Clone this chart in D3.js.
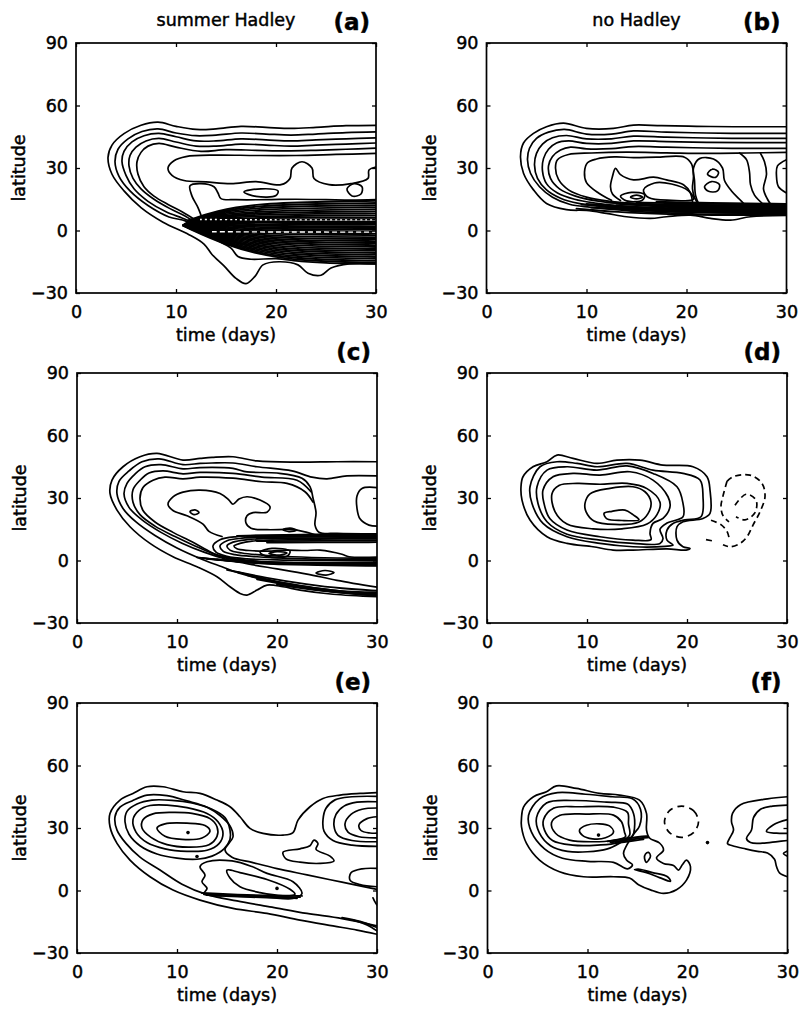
<!DOCTYPE html>
<html>
<head>
<meta charset="utf-8">
<script src="https://cdn.jsdelivr.net/npm/d3@7/dist/d3.min.js"></script>
<style>
html,body{margin:0;padding:0;background:#fff;}
svg{display:block;font-family:"DejaVu Sans",sans-serif;}
</style>
</head>
<body>
<svg id="chart" width="802" height="1010"></svg>
<script>
// ---------- axes / text data ----------
const xTicks = [0, 10, 20, 30];
const yTicks = [-30, 0, 30, 60, 90];
const xDomain = [0, 30];
const yDomain = [-30, 90];
const panelLetters = ["(a)", "(b)", "(c)", "(d)", "(e)", "(f)"];
const columnTitles = ["summer Hadley", "no Hadley"];
const xLabel = "time (days)";
const yLabel = "latitude";

// ---------- panel (a): contour lines, [time (days), latitude] ----------
const aOpen = [
 [[30,50.5],[27,50.3],[24,49.5],[21.5,49],[19,49.5],[16.5,50],[14,48.8],[12,48.5],[10,50],[8.2,52],[6.5,50.5],[4.8,46.5],[3.6,41],[3.2,35],[3.6,27],[4.8,19],[6.5,11],[8.7,4],[11.3,-2],[12.8,-6.5],[13.6,-11.5],[14.8,-17],[16,-23],[17,-25.5],[17.9,-22],[18.7,-16.5],[20.3,-15],[22.2,-16.5],[23.2,-20.5],[24.5,-21.5],[25.5,-18],[27.3,-16],[30,-16]],
 [[30,47.3],[27,47],[24,46.3],[21.5,45.8],[19,46.3],[16.5,46.8],[14,45.8],[12,45.5],[10,46.8],[8.2,48.8],[6.6,47.5],[5.2,44],[4.2,39],[3.9,33],[4.3,26],[5.4,19],[7.2,12],[9.3,6.5],[11,4.5],[12.5,0],[14,-4.5],[15.5,-8.5],[16.2,-12.5],[17.5,-13.8],[20,-13.5],[22.5,-14.8],[25,-15.5],[30,-16]],
 [[30,44.5],[27,44],[24,43.5],[21.5,43],[19,43.5],[16.5,44],[14,43],[12,43],[10,45],[8.3,46.6],[6.8,45.5],[5.6,42.5],[4.8,38],[4.6,33],[5,26.5],[5.8,20],[7.2,14],[9,9],[10.6,6],[11.3,4.6]],
 [[30,42],[27,41.5],[24,41],[21.5,40.5],[19,41],[16.5,41.5],[14,40.5],[12,40.5],[10,42.5],[8.3,44.2],[7,43],[6,40],[5.4,36],[5.3,31],[5.7,25],[6.5,20],[7.8,15],[9.4,10.5],[10.9,7],[11.6,4.9]],
 [[30,39.5],[27,39],[24,38.5],[21,38.2],[18,38.5],[15,38.8],[12.5,38],[10,40],[8.3,41.8],[7.2,40.5],[6.5,37.5],[6.1,33],[6.2,27],[6.8,21],[7.8,16.5],[9.2,12.5],[10.6,9],[11.9,5.2]],
 [[30,37],[26,36.5],[22,36],[18,36],[14,36.2],[11,35.5],[9.8,33.5],[9.2,30],[9.6,26.5],[10.8,24],[13,23.3],[15.5,22.5],[18,23.5],[20.5,22],[21.4,25],[21.6,30],[22.6,33],[23.6,30],[23.8,25],[25.3,22],[27.5,22.5],[29.2,25],[29.3,29],[30,30.5]],
 [[12.6,6],[12.2,11],[11.6,16.5],[11.4,21.5],[12.5,22.5],[13.8,21],[14.2,18],[14.5,15.3],[16,14.8],[19,14.8],[22,15],[25,14.8],[27.5,14.6],[30,14.8]]
];
const aClosed = [
 [[16.8,18.5],[18.5,20],[20.2,19],[20,16.8],[18,16.4]],
 [[27.1,20],[27.8,22.5],[28.6,21],[28.5,17.5],[27.6,16.6]]
];
const aBand = [
 [[11.2,4.8],[14,9.5],[18,12.8],[24,13.8],[30,14.2]],
 [[11.3,4.8],[14,9],[18,11.9],[24,12.8],[30,13.2]],
 [[11.4,4.8],[14,8.5],[18,11],[24,11.8],[30,12.2]],
 [[11.5,4.8],[14,8],[18,10.1],[24,10.8],[30,11.2]],
 [[11.6,4.8],[14,7.5],[18,9.2],[24,9.8],[30,10.2]],
 [[11.7,4.8],[14,7],[18,8.4],[24,8.9],[30,9.2]],
 [[11.8,4.8],[14,6.5],[18,7.6],[24,8],[30,8.2]],
 [[11.9,4.8],[14,6],[18,6.8],[24,7.1],[30,7.2]],
 [[12,4.8],[14,5.6],[18,6],[24,6.2],[30,6.2]],
 [[12.1,4.7],[16,5.2],[30,5.4]],
 [[11.8,4.5],[15,4.4],[20,4.3],[30,4.4]],
 [[11.7,4.4],[15,3.8],[20,3.6],[30,3.6]],
 [[11.6,4.3],[15,3.2],[20,2.9],[30,2.8]],
 [[11.5,4.2],[15,2.6],[20,2.1],[30,2]],
 [[11.4,4.1],[15,2],[20,1.4],[30,1.2]],
 [[11.3,4],[15,1.4],[20,0.6],[30,0.4]],
 [[11.2,3.9],[15,0.8],[20,-0.2],[30,-0.5]],
 [[11.2,3.8],[15,0.2],[20,-1],[25,-1.2],[30,-1.3]],
 [[11.1,3.7],[15,-0.3],[20,-1.8],[25,-2.1],[30,-2.2]],
 [[11.1,3.6],[15,-0.8],[20,-2.7],[25,-3.1],[30,-3.2]],
 [[11,3.5],[15,-1.3],[20,-3.5],[25,-4],[30,-4.1]],
 [[11,3.4],[15,-1.8],[20,-4.4],[25,-4.9],[30,-5.1]],
 [[11,3.3],[15,-2.3],[20,-5.2],[25,-5.8],[30,-6]],
 [[10.9,3.2],[15,-2.8],[20,-6.1],[25,-6.8],[30,-7]],
 [[10.9,3.1],[15,-3.3],[20,-6.9],[25,-7.7],[30,-7.9]],
 [[10.9,3],[15,-3.8],[20,-7.8],[25,-8.6],[30,-8.9]],
 [[10.8,2.9],[15,-4.3],[20,-8.6],[25,-9.5],[30,-9.8]],
 [[10.8,2.8],[15,-4.8],[20,-9.5],[25,-10.4],[30,-10.8]],
 [[10.8,2.7],[15,-5.3],[20,-10.3],[25,-11.3],[30,-11.7]],
 [[10.7,2.6],[15,-5.8],[20,-11.2],[25,-12.2],[30,-12.7]],
 [[10.7,2.5],[15,-6.3],[20,-12],[25,-13.1],[30,-13.6]],
 [[10.7,2.4],[15,-6.8],[20,-12.8],[25,-14],[30,-14.6]],
 [[10.7,2.3],[15,-7.3],[20,-13.4],[25,-14.9],[30,-15.5]]
];
const aGaps = [
 [[12.4,5.3],[16,5.2],[22,5.1],[30,5.1]],
 [[13.6,-0.6],[20,-0.7],[30,-0.8]]
];

// ---------- panel (b) ----------
const bOpen = [
 [[30,49.8],[27,49.8],[24.7,49.8],[21,50],[17.5,50.3],[14.7,50.6],[12.7,49],[10,49],[7.7,51.5],[6,49.8],[4.7,46.6],[3.7,42],[3.4,35.5],[3.7,27.5],[4.7,19.5],[6,13],[8,10],[10,9.6],[12,8.2],[14,6.6],[16.4,5.8],[18,6.6],[20.4,7.4],[22.4,5.8],[24.4,5],[26.4,6.6],[30,7.2]],
 [[30,46.6],[26,46.6],[22,46.8],[18,47.2],[14.7,47.8],[12.5,46.3],[10,46.3],[7.8,48.5],[6.2,47.2],[5,44.2],[4.3,39.5],[4.1,34],[4.4,27.5],[5.3,21],[6.6,16],[8.3,12.6],[10.3,11.2],[13,10],[16,8.8],[19,8.3],[22,7.8],[26,7.8],[30,7.8]],
 [[30,44.2],[26,44.2],[22,44.4],[18,44.8],[14.7,45.3],[12.5,44],[10,44],[8,45.6],[6.6,44.5],[5.6,41.5],[5,37],[4.8,31.5],[5.1,25],[6,19.5],[7.4,15.5],[9.2,13],[11.3,11.8],[14,10.6],[17,9.6],[20,9],[24,8.7],[30,8.6]],
 [[30,42.2],[26,42.2],[22,42.3],[18,42.7],[14.7,43],[12.5,41.8],[10,41.8],[8.2,43],[7,42],[6.2,39],[5.7,34.5],[5.6,28.5],[6,22.5],[7.1,18],[8.8,15],[10.8,13.2],[13.5,11.8],[16.5,10.7],[20,10],[24,9.6],[30,9.4]],
 [[30,39.4],[26,39.4],[22,39.6],[18,40],[14.7,40.3],[12.5,39.3],[10,39.2],[8.4,40],[7.4,38.6],[6.6,35.5],[6.2,31],[6.4,25],[7.3,20],[8.9,16.5],[11,14.2],[13.7,12.8],[17,11.6],[20.5,10.8],[25,10.3],[30,10.1]],
 [[30,37.5],[26,37.2],[22,37],[18,37.3],[14,37.6],[10.5,37.2],[8.2,36.5],[7.1,34],[6.9,30],[7.2,24.5],[8.2,19.5],[10,16],[12.4,14],[15,12.9],[18,12.1],[21,11.6],[25,11.2],[30,11]],
 [[12.5,14.5],[11.2,18],[10,23],[9.8,28],[10.1,32.5],[11,34.3],[12.8,35.3],[14.7,35],[17,35.2],[19.8,35.2],[20.5,32],[20.7,26],[20.6,20],[21,14],[21.5,12]],
 [[13.4,14.4],[12.6,17.5],[12.4,21],[12.6,26],[12.9,29.8],[13.4,26.8],[14.7,24.3],[16.7,25.6],[18,24.3],[19.7,22],[20.4,18],[20.6,13.8]],
 [[21.2,13],[20.9,17],[20.8,24],[20.7,30],[21.3,34.5],[22.7,34.3],[23.6,30],[23.8,24],[24.5,19],[25.3,15],[25.8,12.5]],
 [[25.3,37.2],[26,34],[26.3,28],[26.4,22],[26.8,17],[27.7,12.5]],
 [[27.4,37],[27.8,33],[28,27],[27.7,20],[28.1,15],[28.5,12]],
 [[30,34],[29.1,31],[29,26],[29.2,21],[30,18]]
];
const bClosed = [
 [[13.4,16.5],[14.5,18.3],[15.8,17.2],[15.6,14.6],[14,14.2]],
 [[14.4,16],[15,17],[15.6,16],[15,15.2]],
 [[15.7,19.5],[16.8,22.8],[18.5,22.3],[20.2,19],[20.7,15],[18.5,14.5],[16.2,15.8]],
 [[22.1,27],[22.6,29.5],[23.2,28],[22.9,25.5]],
 [[21.8,21],[22.5,23.5],[23.3,22],[23.1,19],[22.2,18.8]]
];
const bBand = [
 [[9,10.5],[13,8.8],[18,7.8],[24,7.2],[30,7.6]],
 [[9.5,12.5],[14,10.5],[20,9.6],[30,9]],
 [[10,12.8],[15,11.2],[20,10.5],[30,10]],
 [[11,12],[16,10.3],[22,9.8],[30,9.4]],
 [[12,13.5],[16,12.3],[21,11.8],[30,11.5]],
 [[14,13],[19,12.4],[25,12],[30,11.9]],
 [[10.5,11],[15,9.6],[20,8.8],[30,8.3]],
 [[11.5,11.5],[16,9.8],[22,9.2],[30,8.8]],
 [[13,12.8],[18,11.4],[24,10.9],[30,10.7]],
 [[15,13.5],[20,12.9],[25,12.6],[30,12.4]],
 [[17,13.8],[22,13.2],[30,12.8]],
 [[12,11],[17,9.2],[24,8.4],[30,8.1]]
];

// ---------- panel (c) ----------
const cOpen = [
 [[30,47.4],[26,47.4],[22,47.2],[18,47.8],[15.6,49.8],[13.5,49.5],[12.3,49],[10.6,48.2],[8,51.4],[6.3,49.8],[4.6,45],[3.5,38.6],[3.3,32.2],[4,24.2],[5.3,16.2],[7.3,8.2],[9.6,1.8],[12,-3],[14,-7.8],[15.3,-12.6],[16.3,-15.8],[17,-16.6],[18,-14.2],[19,-11.8],[20.6,-12.6],[22.3,-14.2],[25.6,-16.2],[30,-17.4]],
 [[30,40.6],[27,40.6],[25,39.2],[23.5,40],[21.5,43],[18,45],[15.6,46.8],[13.5,46.8],[12.3,46.6],[10.6,46],[8.2,48.8],[6.5,47.4],[5.2,43],[4.2,38],[4,32],[4.6,25],[5.9,18.5],[7.8,12],[10,6],[12.3,1],[14.5,-3],[16.5,-6.5],[18.5,-9],[21,-11],[24,-13.3],[27,-15],[30,-16]],
 [[30,12.8],[26,13],[24.2,13.6],[23.8,17],[23.9,23],[23.6,30],[23.3,35.5],[22.5,39.5],[20,42],[17,42.5],[15.6,44.2],[12.3,44.6],[10.6,44],[8.4,46],[6.8,45],[5.8,41.5],[5,37],[4.7,32],[5.2,25.5],[6.5,19.5],[8.4,13.5],[10.5,8.3],[12.7,4],[15,0.5],[17.5,-2],[20,-4],[23,-6.5],[26,-9.5],[30,-12.8]],
 [[23.4,33],[22,38.5],[18.5,40],[15.6,41.8],[12.3,42.3],[10.6,41.6],[8.6,43],[7.2,42],[6.3,38.5],[5.6,34],[5.6,28],[6.3,22],[7.8,16.5],[9.8,11.5],[11.8,7],[13.5,3.5],[15.5,1],[18.5,-0.5],[22,-1.2],[26,-1.5],[30,-1.6]],
 [[23.6,28],[22.8,33],[21,37],[18.5,37.8],[15.6,39.5],[12.3,40],[10.6,39.2],[8.8,40],[7.6,38.5],[6.6,35],[6.3,30],[6.6,24],[7.8,18.5],[9.6,13.5],[11.5,9],[13,5],[14.3,2],[16,0.2],[19,-0.8],[23,-1.4],[30,-1.9]],
 [[14.5,11.5],[13.2,14],[12.6,17.5],[11,21.5],[9.6,24],[9.1,27],[9.6,30.5],[10.6,32.8],[12.3,33.8],[14.3,32.2],[15.2,29],[15.6,27],[16.2,29.5],[17,30.6],[18.3,29],[19.3,25.8],[19,23.2],[17.6,23],[17,21.5],[16.9,18],[17.4,15.5],[19,14.8],[21.6,14.8],[23,13.5],[24,12.2],[26,11.7],[30,11.4]],
 [[30,35],[28.5,34.6],[28,31],[28,25],[28.3,20],[29.2,17],[30,16.5]],
 [[30,12.2],[24,12.2],[19,12],[16,11.5],[14.3,10],[13.6,7],[13.9,4],[15,2],[17,0.8],[20,0.3],[25,0],[30,-0.2]],
 [[30,11.6],[24,11.5],[19,11.2],[16.5,10.7],[15,9.5],[14.3,7],[14.6,4.5],[15.8,2.8],[18,1.8],[21,1],[25,0.5],[30,0.3]],
 [[30,11],[24,10.8],[19,10.5],[17,10],[15.6,8.8],[15,7],[15.3,5],[16.5,3.6],[18.5,2.6],[21.5,1.8],[26,1.2],[30,1]],
 [[30,10.4],[24,10.2],[19.5,9.8],[17.5,9.3],[16.3,8.2],[15.7,7],[16,5.6],[17.2,4.8],[19,4.5],[21,5],[22.8,4.8],[24.3,5],[26.5,3],[27.2,1.8],[30,1.6]]
];
const cClosed = [
 [[11.3,23.5],[11.8,24.3],[12.2,23],[11.7,22]],
 [[20.6,14.8],[21.3,15.5],[22,14.6],[21.2,13.9]],
 [[18.3,4],[19.5,5.8],[21.3,4.5],[21,2],[19,2]],
 [[19.2,3.4],[20,4.3],[21,3.6],[20.3,2.6]],
 [[23.9,-6],[24.8,-4.8],[25.7,-5.8],[24.9,-7]]
];
const cBand = [
 [[16,11.8],[22,12.5],[30,12.8]],
 [[18,9.3],[24,9.4],[30,9.6]],
 [[19,8.6],[25,8.7],[30,8.8]],
 [[17,11.2],[23,11.9],[30,12]],
 [[18,10.6],[24,10.6],[30,10.7]],
 [[12,1.5],[16,-0.8],[22,-1.8],[30,-2.3]],
 [[13,0.8],[18,-1],[24,-1.1],[30,-1.1]],
 [[14,0.5],[18,-1.5],[24,-1.8],[30,-1.4]],
 [[12.5,1.2],[17,-1.3],[23,-2.2],[30,-2.6]],
 [[15,-4.5],[19,-8.5],[23,-11.5],[26.5,-13.5],[30,-14.5]],
 [[16,-5.5],[20,-10.5],[24,-13.5],[27,-15],[30,-15.3]],
 [[17,-7],[21,-11.8],[25,-14.8],[30,-16.8]],
 [[18,-9],[22,-12.8],[26,-15.4],[30,-16.2]],
 [[20,-11.5],[24,-14.5],[30,-17]]
];

// ---------- panel (d) ----------
const dClosed = [
 [[3.6,40.2],[4.6,45],[6,47.4],[7,50.6],[8.6,49],[11,46.6],[13,48.2],[15.3,48.2],[17.6,45.8],[20.6,45],[22,40.2],[22.3,33.8],[22.3,22.6],[21.6,20.2],[19.6,18.6],[19,16.2],[19,9.8],[19.6,6.6],[20.3,5.8],[19.9,5],[18,5.6],[14.6,5],[12.6,5],[10.6,6.6],[8,8.2],[6,11.4],[4.3,19.4],[3.5,29],[3.4,35.4]],
 [[4.3,35.4],[5.3,45],[7,47.4],[9,46.6],[11,45],[14,46.6],[16.6,43.4],[19.6,41.8],[21.3,38.6],[21.6,30.6],[21.4,21],[19.8,19.5],[18.6,17.8],[18,14.6],[18,9.8],[18.6,7.4],[17.8,6.8],[14.6,6.6],[11.3,8.2],[8,11.4],[5.6,17.8],[4.5,27.4]],
 [[5,35.4],[6,43.4],[8,45],[11,43.4],[14,45.4],[16.6,41.8],[19,35.4],[19.6,27.4],[19.6,21],[18,18],[17.3,15],[17.6,10.5],[17.3,8.2],[14.6,8.2],[11.3,9.8],[8,12.6],[6,18.6],[5.1,27.4]],
 [[5.6,33.8],[6.6,40.2],[8.6,41.8],[11.3,41],[14.3,42.6],[16.6,38.6],[18.1,30.6],[18.3,25.8],[17.6,20.2],[16.6,17.8],[16.3,13],[16.4,10],[14.6,9.8],[11.3,11.4],[8,14.6],[6.3,20],[5.7,27.4]],
 [[6.5,32],[7.2,36],[9,37],[11.3,36.6],[14,37],[16,34.5],[17.3,28],[17,22],[16,17.5],[13.5,15.2],[10.6,15.2],[8,17.5],[6.8,23.5]],
 [[9.8,27.4],[10.3,32],[12.3,34.6],[14.6,35.4],[15.8,33],[16.4,28],[16.1,22.5],[15.2,18.5],[12.8,17.3],[10.7,19],[9.9,23.5]],
 [[11.7,22.6],[12.5,23.6],[13.8,24.2],[14.6,22],[15.2,19.6],[13.5,19.2],[12,20]]
];
const dNegative = [
 [[24,38],[24.6,40.2],[26.3,41],[27.5,37],[27.8,30.6],[27.3,23.4],[26.6,17],[26,11.4],[25.3,8.2],[24.3,6.6],[23.6,7.6]],
 [[24,38],[23.6,31],[23.4,26],[23.6,21.5],[24.2,18.5]],
 [[24.8,26.5],[25.9,31.8],[26.9,29],[26.8,23],[25.8,19.5],[24.9,21]],
 [[22.4,19.3],[23.4,17.2],[24,14],[24.2,11]],
 [[21.9,10],[22.7,9.3]]
];

// ---------- panel (e) ----------
const eOpen = [
 [[30,47],[28.3,46.6],[26.3,45.8],[24.6,44.2],[23.3,40.2],[22.1,33.8],[21.6,27.8],[20.6,26.6],[18.6,27.4],[17.3,29.8],[16.3,35.4],[15.3,40.2],[14,43.4],[12.3,46.6],[10.6,47.4],[8.6,49.8],[7,49.8],[5.6,46.6],[4.3,43.4],[3.3,37],[3.3,30.6],[4,22.6],[5.3,14.6],[7.3,6.6],[9.6,0.2],[12.3,-4.6],[15.6,-8.6],[19,-11],[22.3,-14.2],[25.6,-17],[28,-19],[30,-21]],
 [[30,0.5],[26.5,4],[23,7.5],[20,10.5],[17.5,13.5],[15.5,16],[14.8,19.5],[15.6,25.8],[15.3,31],[14.3,36],[13,40],[11,43],[9,45.5],[7,45.8],[5.5,43],[4.3,40],[3.8,35.4],[4,29],[4.9,22.6],[6.3,16],[8.3,9.8],[10.5,3],[13,-2],[16,-5],[19.5,-8],[23,-11],[26.5,-13.5],[30,-17]],
 [[30,10.6],[28.5,10.4],[27.4,8.5],[27.3,5],[28.3,2.8],[30,1.8]],
 [[30,45.2],[27.5,45],[25.8,43.5],[24.9,39.5],[24.6,34],[24.7,28.5],[25.6,24],[27.5,21.8],[30,21.2]],
 [[30,42.6],[28,42.4],[26.7,40.5],[25.9,36.5],[25.7,31],[26.1,26.5],[27.5,24],[30,23.4]],
 [[30,39.6],[28.5,39],[27.4,36.5],[26.8,32],[27.1,28],[28.2,25.8],[30,25.3]],
 [[30,35.4],[29,34.5],[28.2,31.5],[28.4,28.8],[29.3,27.6],[30,27.5]],
 [[26.5,-13],[28.3,-14.8],[30,-17.8]],
 [[27.6,-14.2],[29,-16.5],[30,-19.4]],
 [[29.6,-3.5],[29.8,-5.5],[30,-7]]
];
const eClosed = [
 [[15.3,29],[14.8,35],[13.5,39],[11.5,42],[9.5,43.3],[7.5,43.4],[6,41.5],[5,38],[4.8,33],[5.2,27],[6.3,21.5],[8,17.5],[10,15.5],[12,15],[13.5,16.5],[14.7,20],[15.3,24.5]],
 [[14.6,27.4],[14.1,33],[13,37],[11,39.8],[9,41],[7.3,40.8],[6.2,38.5],[5.6,34],[5.9,28],[7,23],[8.8,20],[11,18.8],[13,19.3],[14.2,22.5]],
 [[14,30.6],[13.3,34.5],[11.5,37],[9.5,37.5],[7.6,36.8],[6.6,34],[6.5,30],[7.4,25.5],[9,22],[11.3,20.8],[13.2,22],[14,26]],
 [[8,30],[8.8,32],[11,32.3],[12.8,31.2],[13.3,28.5],[12.5,25.2],[10.5,24.5],[8.8,26]],
 [[13,13.8],[15.5,14.2],[17.5,11.5],[19,8.2],[21.6,4.2],[22.5,-1.4],[21.6,-3.8],[19,-3.2],[15.6,-2.6],[12.7,-1.6],[13,1],[12.5,4.2],[12.8,7.4],[12.3,11.4]],
 [[15,9.8],[16.3,8.6],[19,5.3],[21.3,0.6],[21.8,-1.8],[20.6,-2.4],[18.3,-1],[16.3,1.8],[15.3,6]],
 [[20.6,18.4],[22.3,20],[23.3,21.5],[23.7,24.2],[24.1,22.5],[23.9,19.8],[25.3,16.5],[25.7,14.2],[24.3,13],[22.3,13.6],[20.9,15.2]]
];
const eBand = [
 [[12.5,-1.2],[16,-2],[20,-2.6],[22.5,-2.6]],
 [[12.7,-1.8],[16,-2.5],[20,-3.1],[22.3,-3.2]],
 [[13,-2.2],[16,-3],[20,-3.5],[22,-3.7]]
];
const eDots = [[11.1,27.8],[20,1],[12,16.3]];

// ---------- panel (f) ----------
const fOpen = [
 [[30,45],[28,44],[25.3,41.2],[24.5,37],[24.4,33],[24.6,29],[24.2,25],[24,22.5],[24.5,21.5],[25.8,20],[27,18.8],[28,18],[28.7,15],[28.9,11.5],[29.2,8.5],[30,6.6]],
 [[30,41],[28.5,40.5],[27.3,39],[26.6,35],[26.4,29],[25.9,25],[26.3,23],[27.5,22.7],[29,23.5],[30,24]],
 [[30,34],[28.6,31.6],[27.9,28.3],[28.9,27.5],[30,27.4]],
 [[30,19],[29.6,17.8],[30,16.5]]
];
const fBand = [
 [[12,23.6],[13.5,24.6],[15.2,25.8],[16,26.1]],
 [[12.3,23.1],[13.8,24.1],[15.5,25.2],[16.1,25.5]],
 [[12.8,22.8],[14.2,23.6],[15.6,24.6]]
];
const fClosed = [
 [[3.4,35],[3.6,40],[4.6,45],[5.9,47.4],[6.9,50.2],[8.9,49],[11.2,46.6],[13.2,45.8],[15.2,43.4],[15.9,37],[15.9,29],[16.2,25.2],[17.2,22.8],[17.6,19.4],[16.9,15.6],[17.6,13],[18.6,12],[19.1,9.8],[19.5,12.5],[19.9,14.6],[20.3,11.4],[19.9,5],[18.9,0.4],[17.6,-1.4],[16.3,0.3],[15.1,2.8],[14.2,6],[12.6,6.6],[9.6,6.6],[7.2,9],[5.2,14.6],[3.9,22.6],[3.4,30.6]],
 [[4.1,36],[5.2,44],[7,47],[9.8,46.2],[12.5,45],[14.5,44],[15.3,39],[15.2,31],[14.6,27],[13.9,21.5],[13.6,17.8],[13.9,14.6],[14.5,12.3],[14,10.4],[12.6,13.5],[10,14],[7.5,15.5],[5.7,20],[4.4,28]],
 [[4.9,35],[5.9,42],[8.6,43.2],[11.9,42.4],[14,41.5],[14.6,37],[14.7,30],[14.5,26.2],[13.5,23.5],[12,20],[10,18.6],[8,18.8],[6.3,21.5],[5.2,27.5]],
 [[5.6,34],[6.6,39.5],[9.2,40.2],[12.6,40],[14,37.5],[14.1,32],[14.2,26.5],[13,23],[11,21.8],[8.5,21.8],[6.5,24],[5.7,29]],
 [[6.4,32.5],[7.2,36],[9.9,36.7],[12.6,36.2],[13.4,33],[13.7,28],[13.8,25.8],[12.5,24],[10.5,23.4],[8.2,24.2],[6.8,27.5]],
 [[9.2,29],[9.9,31.3],[11.2,32],[12.2,31],[12.6,28],[11.8,25.3],[10.5,24.8],[9.5,26.5]],
 [[14.7,10],[15.9,8.6],[17.2,6.2],[18.3,4.4],[18,6.6],[16.5,8.6],[15.2,10.2]],
 [[15.8,17.5],[16.1,18.3],[16.3,16.5],[16.1,14.5],[15.9,13.5],[15.7,15.5]]
];
const fNegative = [
 [[19.4,40.5],[20.6,38.3],[21.1,33],[20.6,27.8],[19.4,25.5],[18.2,27.8],[17.7,33],[18.2,38.3]]
];
const fDots = [[11.1,26.6],[22,23]];

// ---------- assemble ----------
const panels = [
 {open:aOpen, closed:aClosed, band:aBand, gaps:aGaps, negOpen:[], negClosed:[], dots:[]},
 {open:bOpen, closed:bClosed, band:bBand, gaps:[], negOpen:[], negClosed:[], dots:[]},
 {open:cOpen, closed:cClosed, band:cBand, gaps:[], negOpen:[], negClosed:[], dots:[]},
 {open:[], closed:dClosed, band:[], gaps:[], negOpen:dNegative, negClosed:[], dots:[]},
 {open:eOpen, closed:eClosed, band:eBand, gaps:[], negOpen:[], negClosed:[], dots:eDots},
 {open:fOpen, closed:fClosed, band:fBand, gaps:[], negOpen:[], negClosed:fNegative, dots:fDots}
];

const layout = [
 {left:76, top:43}, {left:486.5, top:43},
 {left:77, top:373}, {left:487, top:373},
 {left:77, top:703}, {left:487.5, top:703}
];
const PW = 300, PH = 250;
const FONT = '"DejaVu Sans", sans-serif';

const svg = d3.select("#chart");
const defs = svg.append("defs");

function styleText(sel) {
  sel.attr("font-family", FONT).attr("fill", "#000")
     .attr("stroke", "#000").attr("stroke-width", 0.45);
}

panels.forEach((P, i) => {
  const L = layout[i];
  const x = d3.scaleLinear().domain(xDomain).range([L.left, L.left + PW]);
  const y = d3.scaleLinear().domain(yDomain).range([L.top + PH, L.top]);
  const g = svg.append("g");
  defs.append("clipPath").attr("id", "clip" + i)
    .append("rect").attr("x", L.left).attr("y", L.top).attr("width", PW).attr("height", PH);
  const cg = g.append("g").attr("clip-path", `url(#clip${i})`)
    .attr("fill", "none").attr("stroke", "#000")
    .attr("stroke-linejoin", "round").attr("stroke-linecap", "round");

  const lineOpen = d3.line().x(d => x(d[0])).y(d => y(d[1])).curve(d3.curveCatmullRom.alpha(0.5));
  const lineClosed = d3.line().x(d => x(d[0])).y(d => y(d[1])).curve(d3.curveCatmullRomClosed.alpha(0.5));
  const lineBand = d3.line().x(d => x(d[0])).y(d => y(d[1])).curve(d3.curveBasis);

  cg.append("g").selectAll("path").data(P.band).join("path")
    .attr("d", lineBand).attr("stroke-width", 1.9);
  cg.append("g").selectAll("path").data(P.open).join("path")
    .attr("d", lineOpen).attr("stroke-width", 1.7);
  cg.append("g").selectAll("path").data(P.closed).join("path")
    .attr("d", lineClosed).attr("stroke-width", 1.7);
  cg.append("g").selectAll("path").data(P.negOpen).join("path")
    .attr("d", lineOpen).attr("stroke-width", 1.7).attr("stroke-dasharray", "6,4").attr("stroke-linecap", "butt");
  cg.append("g").selectAll("path").data(P.negClosed).join("path")
    .attr("d", lineClosed).attr("stroke-width", 1.7).attr("stroke-dasharray", "7,5").attr("stroke-linecap", "butt");
  cg.append("g").selectAll("path").data(P.gaps).join("path")
    .attr("d", lineOpen).attr("stroke", "#fff").attr("stroke-width", 1.4)
    .attr("stroke-dasharray", (d, k) => k === 0 ? "2,3" : "5,3").attr("stroke-linecap", "butt");
  cg.append("g").selectAll("circle").data(P.dots).join("circle")
    .attr("cx", d => x(d[0])).attr("cy", d => y(d[1])).attr("r", 1.8)
    .attr("fill", "#000").attr("stroke", "none");

  // axes: labelled bottom and left, tick-only top and right (ticks inward)
  const axB = g.append("g").attr("transform", `translate(0,${L.top + PH})`)
    .call(d3.axisBottom(x).tickValues(xTicks).tickSizeInner(-4).tickSizeOuter(0).tickPadding(12.5));
  const axL = g.append("g").attr("transform", `translate(${L.left},0)`)
    .call(d3.axisLeft(y).tickValues(yTicks).tickSizeInner(-4).tickSizeOuter(0).tickPadding(8)
      .tickFormat(d => d < 0 ? "\u2212" + Math.abs(d) : d));
  const axT = g.append("g").attr("transform", `translate(0,${L.top})`)
    .call(d3.axisTop(x).tickValues(xTicks).tickSizeInner(-4).tickSizeOuter(0).tickFormat(""));
  const axR = g.append("g").attr("transform", `translate(${L.left + PW},0)`)
    .call(d3.axisRight(y).tickValues(yTicks).tickSizeInner(-4).tickSizeOuter(0).tickFormat(""));
  [axB, axL, axT, axR].forEach(a => {
    a.select(".domain").remove();
    a.selectAll("line").attr("stroke", "#000").attr("stroke-width", 1.3);
    a.selectAll("text").attr("font-size", 17.5).call(styleText);
  });

  g.append("rect").attr("x", L.left).attr("y", L.top).attr("width", PW).attr("height", PH)
    .attr("fill", "none").attr("stroke", "#000").attr("stroke-width", 1.7);

  g.append("text").attr("x", L.left + PW / 2).attr("y", L.top + PH + 48)
    .attr("text-anchor", "middle").attr("font-size", 17.5).call(styleText).text(xLabel);
  g.append("text").attr("transform", `translate(${L.left - 51},${L.top + PH / 2}) rotate(-90)`)
    .attr("text-anchor", "middle").attr("font-size", 17.5).call(styleText).text(yLabel);

  g.append("text").attr("x", L.left + PW - 6).attr("y", L.top - 13)
    .attr("text-anchor", "end").attr("font-weight", "bold")
    .attr("font-size", 23).call(styleText).text(panelLetters[i]);
  if (i < 2) {
    g.append("text").attr("x", L.left + PW / 2).attr("y", L.top - 17)
      .attr("text-anchor", "middle").attr("font-size", 17.5).call(styleText)
      .text(columnTitles[i]);
  }
});
</script>
</body>
</html>
